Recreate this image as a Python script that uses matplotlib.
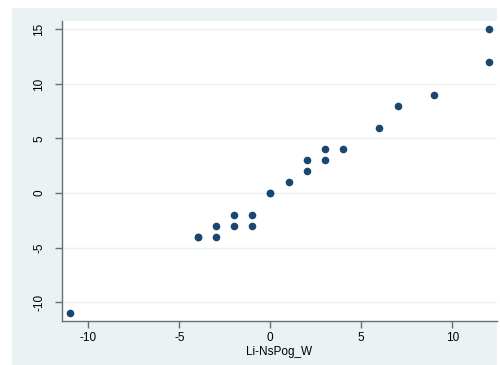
import matplotlib
matplotlib.use("Agg")
import matplotlib.pyplot as plt

x_vals = [-11, -4, -4, -3, -3, -2, -2, -1, -1, 0, 0, 1, 2, 2, 3, 3, 4, 6, 7, 9, 12, 12]
y_vals = [-11, -4, -4, -3, -4, -2, -3, -2, -3, 0, 0, 1, 2, 3, 3, 4, 4, 6, 8, 9, 12, 15]
x_ticks = [-10, -5, 0, 5, 10]
y_ticks = [-10, -5, 0, 5, 10, 15]
x_label = "Li-NsPog_W"

plt.rcParams['font.family'] = ['Liberation Sans', 'DejaVu Sans']

W, H = 500, 365
fig = plt.figure(figsize=(5.0, 3.65), dpi=100, facecolor='white')
bg = '#EAF2F3'
bgax = fig.add_axes([12 / W, 0, (497 - 12) / W, (365 - 8) / H], zorder=0)
bgax.set_facecolor(bg)
bgax.set_axis_off()
bgax.add_patch(plt.Rectangle((0, 0), 1, 1, transform=bgax.transAxes, facecolor=bg, edgecolor='none'))

ax = fig.add_axes([62 / W, 1 - 321 / H, (497 - 62) / W, (321 - 21) / H], zorder=1)
ax.set_facecolor('white')
ax.scatter(x_vals, y_vals, s=30, color='#1A476F', zorder=3, linewidths=0)

ax.set_xlim(-11.45, 12.46)
ax.set_ylim(-11.72, 15.76)
ax.set_xticks(x_ticks)
ax.set_yticks(y_ticks)
ax.set_xticklabels([str(v) for v in x_ticks], fontsize=8.5)
ax.set_yticklabels([str(v) for v in y_ticks], fontsize=8.5, rotation=90, va='center')
ax.grid(axis='y', color='#EAF2F3', linewidth=1.0, zorder=0)
ax.set_axisbelow(True)

for s in ['top', 'right']:
    ax.spines[s].set_visible(False)
for s in ['left', 'bottom']:
    ax.spines[s].set_color('#6E6E6E')
    ax.spines[s].set_linewidth(1.0)
ax.tick_params(direction='out', length=5, width=1, color='#6E6E6E', labelcolor='black')
ax.tick_params(axis='x', pad=3)
ax.tick_params(axis='y', pad=7)

ax.set_xlabel(x_label, fontsize=8.5, labelpad=1.5)

fig.savefig('out.png', dpi=100, facecolor='white')
